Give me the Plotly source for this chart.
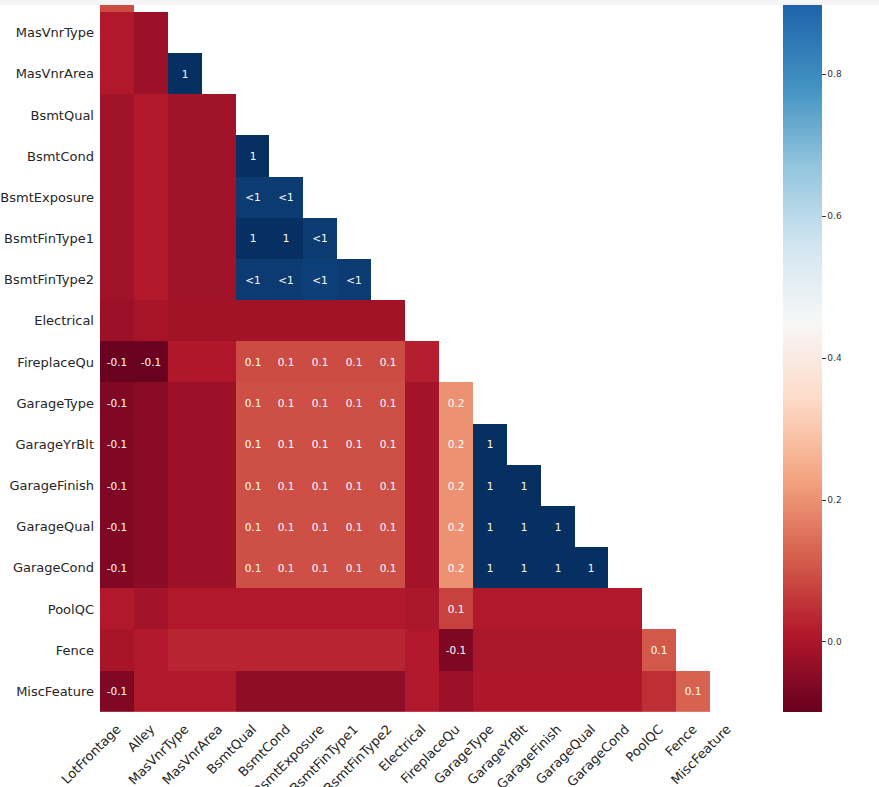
import plotly.graph_objects as go

variables = ["LotFrontage", "Alley", "MasVnrType", "MasVnrArea", "BsmtQual", "BsmtCond",
             "BsmtExposure", "BsmtFinType1", "BsmtFinType2", "Electrical", "FireplaceQu",
             "GarageType", "GarageYrBlt", "GarageFinish", "GarageQual", "GarageCond",
             "PoolQC", "Fence", "MiscFeature"]

# lower-triangle nullity correlations (row variable vs. each earlier variable)
alley = [0.09]
masvnrtype = [0.01, -0.02]
masvnrarea = [0.01, -0.02, 1.0]
bsmtqual = [-0.013, 0.012, -0.013, -0.013]
bsmtcond = [-0.013, 0.012, -0.013, -0.013, 1.0]
bsmtexposure = [-0.013, 0.012, -0.013, -0.013, 0.978, 0.978]
bsmtfintype1 = [-0.013, 0.012, -0.013, -0.013, 1.0, 1.0, 0.978]
bsmtfintype2 = [-0.013, 0.012, -0.013, -0.013, 0.978, 0.978, 0.967, 0.978]
electrical = [-0.02, -0.005, -0.012, -0.012, -0.012, -0.012, -0.012, -0.012, -0.012]
fireplacequ = [-0.095, -0.095, 0.008, 0.008, 0.09, 0.09, 0.09, 0.09, 0.09, 0.02]
garagetype = [-0.06, -0.048, -0.02, -0.02, 0.095, 0.095, 0.095, 0.095, 0.095, -0.01, 0.2]
garageyrblt = [-0.06, -0.048, -0.02, -0.02, 0.095, 0.095, 0.095, 0.095, 0.095, -0.01, 0.2, 1.0]
garagefinish = [-0.06, -0.048, -0.02, -0.02, 0.095, 0.095, 0.095, 0.095, 0.095, -0.01, 0.2,
                1.0, 1.0]
garagequal = [-0.06, -0.048, -0.02, -0.02, 0.095, 0.095, 0.095, 0.095, 0.095, -0.01, 0.2,
              1.0, 1.0, 1.0]
garagecond = [-0.06, -0.048, -0.02, -0.02, 0.095, 0.095, 0.095, 0.095, 0.095, -0.01, 0.2,
              1.0, 1.0, 1.0, 1.0]
poolqc = [0.01, -0.01, 0.01, 0.01, 0.01, 0.01, 0.01, 0.01, 0.01, 0.0, 0.075,
          0.012, 0.012, 0.012, 0.012, 0.012]
fence = [-0.003, 0.01, 0.03, 0.03, 0.03, 0.03, 0.03, 0.03, 0.03, 0.01, -0.065,
         0.0, 0.0, 0.0, 0.0, 0.0, 0.11]
miscfeature = [-0.06, 0.01, 0.01, 0.01, -0.04, -0.04, -0.04, -0.04, -0.04, 0.01, -0.02,
               0.005, 0.005, 0.005, 0.005, 0.005, 0.045, 0.125]

rows = [alley, masvnrtype, masvnrarea, bsmtqual, bsmtcond, bsmtexposure, bsmtfintype1,
        bsmtfintype2, electrical, fireplacequ, garagetype, garageyrblt, garagefinish,
        garagequal, garagecond, poolqc, fence, miscfeature]
row_names = variables[1:]

ncol = len(variables)
z = []
text = []


def label(v):
    if v >= 0.995:
        return "1"
    if v > 0.5:
        return "<1"
    r = round(v, 1)
    if abs(r) < 0.05:
        return ""
    return f"{r:.1f}"


for r in rows:
    z.append(list(r) + [None] * (ncol - len(r)))
    text.append([label(v) for v in r] + [""] * (ncol - len(r)))

rdbu = ["#67001f", "#b2182b", "#d6604d", "#f4a582", "#fddbc7", "#f7f7f7",
        "#d1e5f0", "#92c5de", "#4393c3", "#2166ac", "#053061"]
colorscale = [[i / 10, c] for i, c in enumerate(rdbu)]

zmin, zmax = -0.0986, 1.0
px_per_unit = 710  # colour bar scale

fig = go.Figure(go.Heatmap(
    z=z, x=variables, y=row_names, text=text, texttemplate="%{text}",
    textfont=dict(family="DejaVu Sans", size=10.5, color="white"),
    colorscale=colorscale, zmin=zmin, zmax=zmax, hoverongaps=False,
    colorbar=dict(
        xref="paper", yref="paper", x=(783 - 100) / 644, xanchor="left",
        y=0, yanchor="bottom", lenmode="pixels", len=(zmax - zmin) * px_per_unit,
        thickness=39, xpad=0, ypad=0, outlinewidth=0,
        tickvals=[0.0, 0.2, 0.4, 0.6, 0.8], ticktext=["0.0", "0.2", "0.4", "0.6", "0.8"],
        ticks="outside", ticklen=4, tickcolor="#333333",
        tickfont=dict(family="DejaVu Sans", size=9, color="#333333"),
    ),
))

# light grey strip at the very top (cropped notebook cell edge)
fig.add_annotation(xref="paper", yref="paper", x=(439.5 - 100) / 644, y=1 + 2.5 / 707,
                   xanchor="center", yanchor="middle", text=" ", showarrow=False,
                   width=879, height=5, bgcolor="#f5f5f5", borderpad=0, borderwidth=0,
                   font=dict(size=1))

fig.update_layout(
    width=879, height=787,
    margin=dict(l=100, r=135, t=5, b=75, autoexpand=False),
    paper_bgcolor="white", plot_bgcolor="white",
    font=dict(family="DejaVu Sans", color="#262626"),
    xaxis=dict(type="category", range=[-0.5, 18.5], showgrid=False, zeroline=False,
               tickangle=-45, ticks="", tickfont=dict(size=13, color="#262626"),
               ticklabelstandoff=6, automargin=False),
    yaxis=dict(type="category", range=[17.5, 0.33], showgrid=False, zeroline=False,
               ticks="", tickfont=dict(size=13, color="#262626"), ticklabelstandoff=5,
               automargin=False),
)

fig.write_html("out.html")
